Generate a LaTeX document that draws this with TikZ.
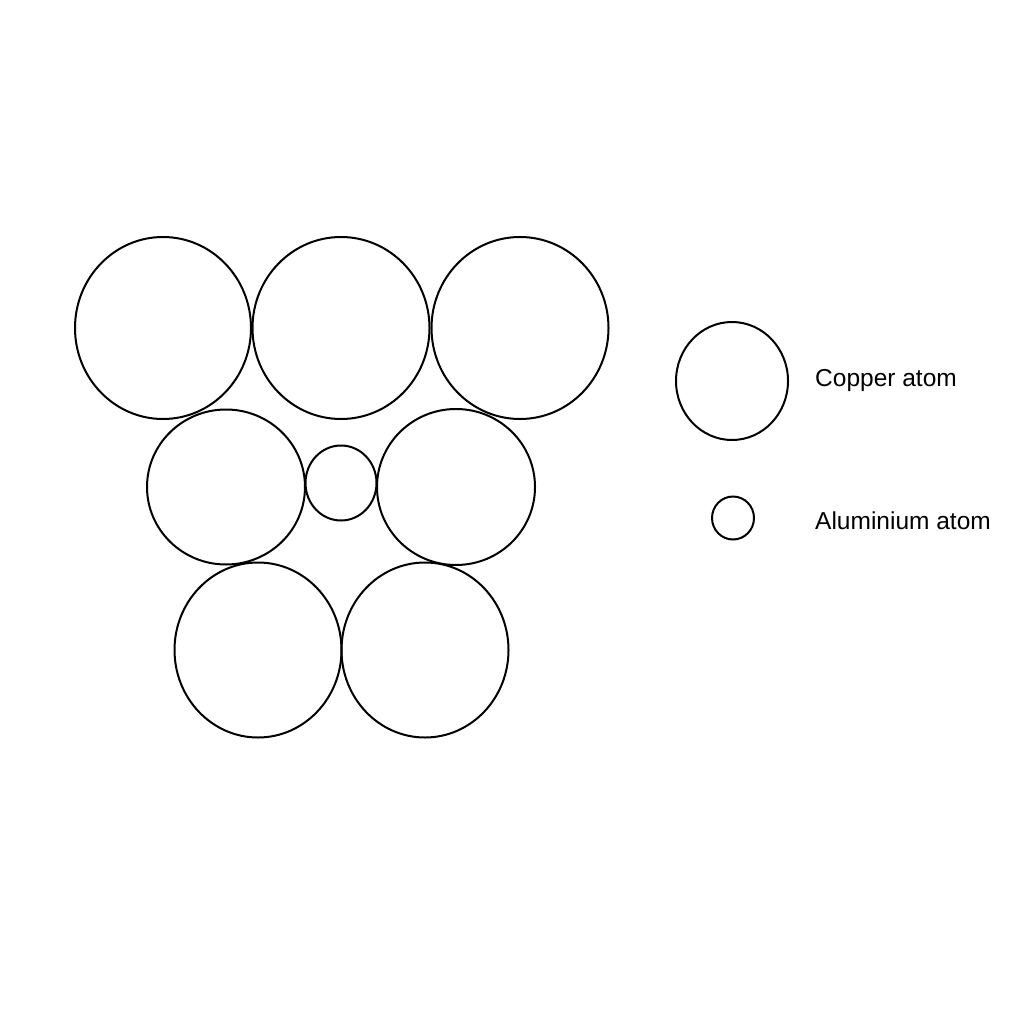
\documentclass[tikz,border=0pt]{standalone}
\usepackage{fontspec}
\setmainfont{Liberation Sans}
\usetikzlibrary{shapes.geometric}
\begin{document}
\begin{tikzpicture}[x=1pt,y=-1pt,
  atom/.style={draw=black,line width=2pt,ellipse,inner sep=0pt},
  label/.style={anchor=west,inner sep=0pt,font=\fontsize{24.5}{28}\selectfont}]
\useasboundingbox[fill=white] (0,0) rectangle (1024,1024);
% top row
\node[atom,minimum width=176pt,minimum height=182pt] (c1) at (163,328) {};
\node[atom,minimum width=177pt,minimum height=182pt] (c2) at (341,328) {};
\node[atom,minimum width=177pt,minimum height=182pt] (c3) at (520,328) {};
% middle row
\node[atom,minimum width=158pt,minimum height=155pt] (c4) at (226,487) {};
\node[atom,minimum width=71pt,minimum height=75pt] (al) at (341,483) {};
\node[atom,minimum width=158pt,minimum height=156pt] (c6) at (456,487) {};
% bottom row
\node[atom,minimum width=167pt,minimum height=175pt] (c7) at (258,650) {};
\node[atom,minimum width=167pt,minimum height=175pt] (c8) at (425,650) {};
% legend
\node[atom,minimum width=112pt,minimum height=118pt] (lcu) at (732,381) {};
\node[atom,minimum width=42pt,minimum height=43pt] (lal) at (733,518) {};
\node[label] (tcu) at (815,380) {Copper atom};
\node[label] (tal) at (815,521) {Aluminium atom};
\end{tikzpicture}
\end{document}
